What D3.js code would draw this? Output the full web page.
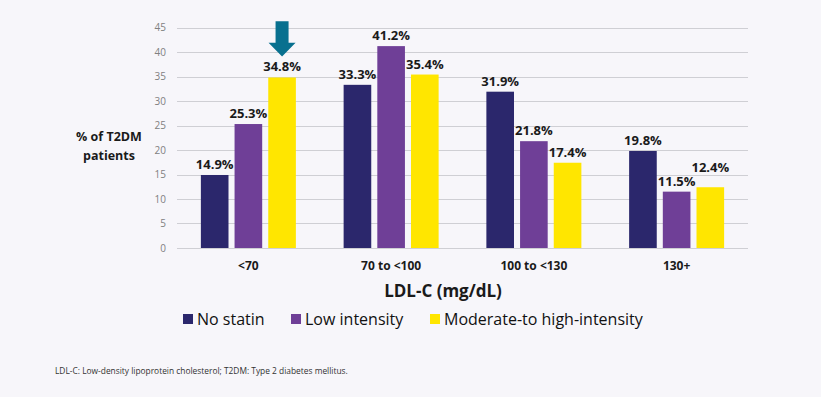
<!DOCTYPE html>
<meta charset="utf-8">
<script src="https://d3js.org/d3.v7.min.js"></script>
<style>
    html, body {
        margin: 0;
        background-color: #f7f6fa;
    }
    * {
        font-family: "Open Sans", sans-serif;
    }
    .grid line {
        stroke: #cfcfd4;
        stroke-width: 1px;
    }
    .tick-label {
        fill: #808080;
        font-size: 10px;
    }
    .value-label {
        fill: #1a1a1a;
        font-size: 13px;
        font-weight: bold;
    }
    .cat-label {
        fill: #1a1a1a;
        font-size: 12px;
        font-weight: bold;
    }
</style>
<body>
<svg width="821" height="397"></svg>
<script>

// chart data
var categories = ["<70", "70 to <100", "100 to <130", "130+"],
    seriesNames = ["No statin", "Low intensity", "Moderate-to high-intensity"],
    noStatin = [14.9, 33.3, 31.9, 19.8],
    lowIntensity = [25.3, 41.2, 21.8, 11.5],
    moderateHigh = [34.8, 35.4, 17.4, 12.4],
    yTicks = [0, 5, 10, 15, 20, 25, 30, 35, 40, 45];

var colors = ["#2b276c", "#6f3f97", "#ffe600"];
var series = [noStatin, lowIntensity, moderateHigh];

var svg = d3.select("svg");

var x0 = d3.scaleBand().domain(categories).range([177, 748]).padding(0);
var x1 = d3.scaleBand().domain(d3.range(seriesNames.length))
    .range([-47.5, 47.5]).paddingInner(0.18).paddingOuter(0);
var y = d3.scaleLinear().domain([0, 45]).range([248, 27.5]);

// grid lines + y tick labels
var grid = svg.append("g").attr("class", "grid");
grid.selectAll("line").data(yTicks).enter().append("line")
    .attr("x1", 177).attr("x2", 748)
    .attr("y1", function(d) { return Math.round(y(d)) + 0.5; })
    .attr("y2", function(d) { return Math.round(y(d)) + 0.5; });

svg.append("g").selectAll("text").data(yTicks).enter().append("text")
    .attr("class", "tick-label")
    .attr("x", 166)
    .attr("y", function(d) { return y(d) + 3.5; })
    .attr("text-anchor", "end")
    .text(function(d) { return d; });

// y axis title
svg.append("text")
    .attr("x", 109).attr("y", 0)
    .attr("text-anchor", "middle")
    .style("font-size", "12.5px").style("font-weight", "bold").style("fill", "#1a1a1a")
    .selectAll("tspan").data(["% of T2DM", "patients"]).enter().append("tspan")
    .attr("x", 109)
    .attr("y", function(d, i) { return 141 + i * 19; })
    .text(function(d) { return d; });

// bars
var groups = svg.append("g").selectAll("g").data(categories).enter().append("g")
    .attr("transform", function(d) { return "translate(" + (x0(d) + x0.bandwidth() / 2) + ",0)"; });

groups.selectAll("rect")
    .data(function(d, ci) { return series.map(function(s, si) { return {ci: ci, si: si, v: s[ci]}; }); })
    .enter().append("rect")
    .attr("x", function(d) { return x1(d.si); })
    .attr("width", x1.bandwidth())
    .attr("y", function(d) { return y(d.v); })
    .attr("height", function(d) { return y(0) - y(d.v); })
    .attr("fill", function(d) { return colors[d.si]; });

// value labels (the last yellow label sits a bit higher in the original)
groups.selectAll(".value-label")
    .data(function(d, ci) { return series.map(function(s, si) { return {ci: ci, si: si, v: s[ci]}; }); })
    .enter().append("text")
    .attr("class", "value-label")
    .attr("x", function(d) { return x1(d.si) + x1.bandwidth() / 2; })
    .attr("y", function(d) { return y(d.v) - 6 - (d.ci == 3 && d.si == 2 ? 9 : 0); })
    .attr("text-anchor", "middle")
    .text(function(d) { return d.v.toFixed(1) + "%"; });

// category labels
svg.append("g").selectAll("text").data(categories).enter().append("text")
    .attr("class", "cat-label")
    .attr("x", function(d) { return x0(d) + x0.bandwidth() / 2; })
    .attr("y", 270)
    .attr("text-anchor", "middle")
    .text(function(d) { return d; });

// x axis title
svg.append("text")
    .attr("x", 443).attr("y", 297)
    .attr("text-anchor", "middle")
    .style("font-size", "17px").style("font-weight", "bold").style("fill", "#1a1a1a")
    .text("LDL-C (mg/dL)");

// arrow pointing at the <70 moderate/high bar
var ax = x0(categories[0]) + x0.bandwidth() / 2 + x1(2) + x1.bandwidth() / 2,
    aTop = y(46.3), aNeck = y(41.9), aTip = y(39.1);
svg.append("path")
    .attr("fill", "#08708f")
    .attr("d", "M" + (ax - 6.5) + "," + aTop + "H" + (ax + 6.5) + "V" + aNeck +
        "H" + (ax + 13.5) + "L" + ax + "," + aTip + "L" + (ax - 13.5) + "," + aNeck +
        "H" + (ax - 6.5) + "Z");

// legend
var legendX = [183, 291, 430];
var legend = svg.append("g").selectAll("g").data(seriesNames).enter().append("g")
    .attr("transform", function(d, i) { return "translate(" + legendX[i] + ",314)"; });
legend.append("rect")
    .attr("width", 10).attr("height", 10)
    .attr("fill", function(d, i) { return colors[i]; });
legend.append("text")
    .attr("x", 14).attr("y", 11)
    .style("font-size", "16px").style("fill", "#111")
    .text(function(d) { return d; });

// footnote
svg.append("text")
    .attr("x", 55).attr("y", 374)
    .style("font-size", "8.4px").style("fill", "#333")
    .text("LDL-C: Low-density lipoprotein cholesterol; T2DM: Type 2 diabetes mellitus.");

</script>
</body>
